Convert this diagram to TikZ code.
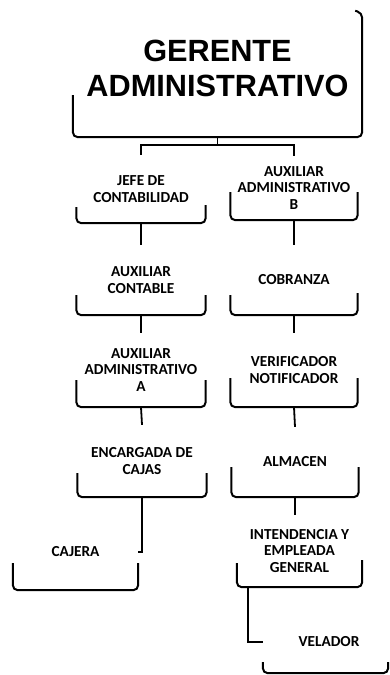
\documentclass[tikz,border=0pt]{standalone}
\usepackage{fontspec}
\setmainfont{Carlito}
\newfontfamily\headfont{Liberation Sans}
\begin{document}
\begin{tikzpicture}[x=1pt,y=-1pt,
  box/.style={draw=none, align=center, inner sep=0pt,
    font=\bfseries\fontsize{15.3}{16.8}\selectfont},
  lbox/.style={box, minimum width=129pt},
  rbox/.style={box, minimum width=127pt},
  edge/.style={line width=1.8pt},
  brk/.style={line width=2pt, rounded corners=5pt}]
\useasboundingbox (0,0) rectangle (389,675);

% top box
\node[box, minimum width=289pt, minimum height=137pt,
      font=\headfont\bfseries\fontsize{30.7}{35}\selectfont] (ger) at (217.5,68.5)
      {GERENTE\\ADMINISTRATIVO};

% left column
\node[lbox, minimum height=68pt] (jefe) at (141,189) {JEFE DE\\CONTABILIDAD};
\node[lbox, minimum height=70pt] (auxc) at (141,280) {AUXILIAR\\CONTABLE};
\node[lbox, minimum height=74pt] (auxa) at (141,370) {AUXILIAR\\ADMINISTRATIVO\\A};
\node[lbox, minimum height=72pt] (enc)  at (142,461) {ENCARGADA DE\\CAJAS};
\node[box, minimum width=125pt, minimum height=76pt] (caj) at (75.5,552) {CAJERA};

% right column
\node[rbox, minimum height=64pt] (auxb) at (294,188) {AUXILIAR\\ADMINISTRATIVO\\B};
\node[rbox, minimum height=70pt] (cob)  at (294,280) {COBRANZA};
\node[rbox, minimum height=74pt] (ver)  at (294,370) {VERIFICADOR\\NOTIFICADOR};
\node[rbox, minimum height=70pt] (alm)  at (295,462) {ALMACEN};
\node[box, minimum width=125pt, minimum height=72pt] (int) at (299.5,551) {INTENDENCIA Y\\EMPLEADA\\GENERAL};
\node[box, minimum width=125pt, minimum height=62pt] (vel) at (325.5,642) {\hspace*{7pt}VELADOR};

% box outlines (visible lower parts)
\draw[brk] ([yshift=42pt]ger.south west) -- (ger.south west) -- (ger.south east)
  -- ([yshift=-13pt]ger.north east) -- ([xshift=-7pt,yshift=-11pt]ger.north east);
\foreach \n/\a/\b in {jefe/16/18, auxc/20/20, auxa/27/27, enc/24/24, caj/27/27,
                      auxb/28/28, cob/20/22, ver/29/29, alm/30/30, int/24/27, vel/11/11}
  \draw[brk] ([yshift=\a pt]\n.south west) -- (\n.south west) -- (\n.south east) -- ([yshift=\b pt]\n.south east);

% connectors
\coordinate (bus) at (217.5,145);
\draw[edge] (ger.south) -- (bus);
\draw[edge] (bus) -| (jefe.north);
\draw[edge] (bus) -| (auxb.north);
\draw[edge] (jefe.south) -- (auxc.north);
\draw[edge] (auxc.south) -- (auxa.north);
\draw[edge] (auxa.south) -- (enc.north);
\draw[edge] (enc.south) |- (caj.east);
\draw[edge] (auxb.south) -- (cob.north);
\draw[edge] (cob.south) -- (ver.north);
\draw[edge] (ver.south) -- (alm.north);
\draw[edge] (alm.south) -- (alm.south |- int.north);
\draw[edge] ([xshift=11pt]int.south west) |- (vel.west);
\end{tikzpicture}
\end{document}
